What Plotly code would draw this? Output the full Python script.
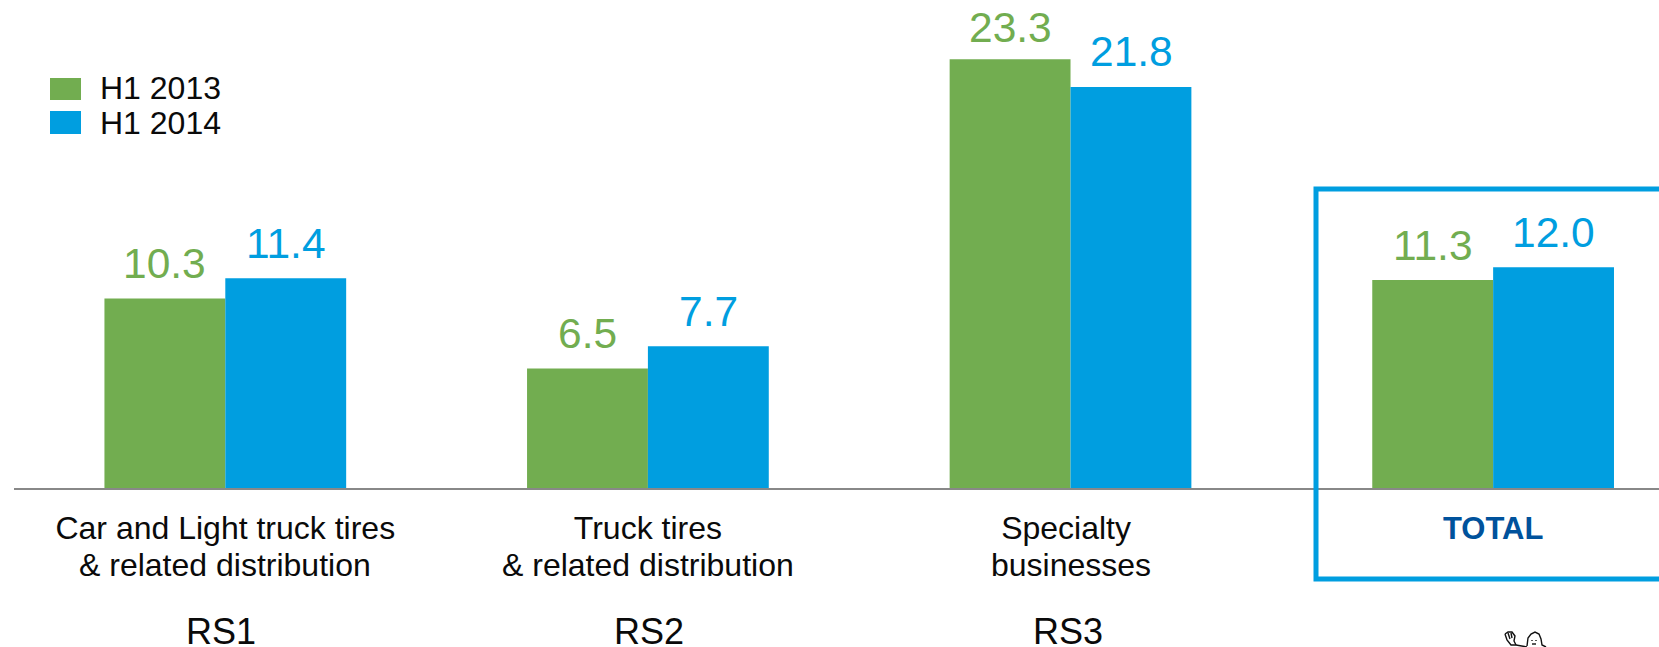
import plotly.graph_objects as go

line1 = ["Car and Light truck tires", "Truck tires", "Specialty\u00a0", "TOTAL"]
line2 = ["&amp; related distribution", "&amp; related distribution", "businesses", ""]
segments = ["RS1", "RS2", "RS3", ""]
segment_shift = [-4, 1, -3, 0]
h1_2013 = [10.3, 6.5, 23.3, 11.3]
h1_2014 = [11.4, 7.7, 21.8, 12.0]
GREEN = "#72AD50"
BLUE = "#009EE0"
NAVY = "#00529C"
FONT = "Liberation Sans, Arial, sans-serif"

FIG_W, FIG_H = 1659, 647
PLOT_L, PLOT_B = 14, 488
PLOT_W = FIG_W - PLOT_L
PLOT_H = PLOT_B
PX_PER_UNIT = 18.4
BAR_PX = 121
LABEL_GAP = 35
TALLEST_LABEL_GAP = 31.5   # the tallest bar's label sits closer to its bar, near the top edge


def xp(px):
    return (px - PLOT_L) / PLOT_W


def yp(py):
    return (PLOT_B - py) / PLOT_H


x = list(range(4))
ticks = [f"<b><span style='color:{NAVY};font-size:31px'>{t}</span></b>" if t == "TOTAL" else t for t in line1]
tallest = max(h1_2013 + h1_2014)

fig = go.Figure()
ann = []
for side, name, vals, col in [(-1, "H1 2013", h1_2013, GREEN), (1, "H1 2014", h1_2014, BLUE)]:
    fig.add_bar(x=x, y=vals, name=name, marker=dict(color=col, line_width=0), hoverinfo="skip")
    for i, v in zip(x, vals):
        ann.append(dict(x=i, y=v, xref="x", yref="y", text=f"{v:.1f}", showarrow=False,
                        xshift=side * BAR_PX / 2,
                        yshift=TALLEST_LABEL_GAP if v == tallest else LABEL_GAP,
                        xanchor="center", yanchor="middle",
                        font=dict(color=col, size=42.5, family=FONT)))

for i in x:
    if line2[i]:
        ann.append(dict(x=i, xref="x", y=yp(565), yref="paper", text=line2[i], showarrow=False,
                        font=dict(size=32, color="#0a0a0a", family=FONT), xanchor="center", yanchor="middle"))
    if segments[i]:
        ann.append(dict(x=i, xref="x", xshift=segment_shift[i], y=yp(631), yref="paper", text=segments[i],
                        showarrow=False, font=dict(size=36, color="#0a0a0a", family=FONT),
                        xanchor="center", yanchor="middle"))

shapes = [dict(type="rect", xref="paper", yref="paper", x0=xp(1316), x1=xp(1680), y0=yp(579), y1=yp(189),
               line=dict(color=BLUE, width=5), layer="above")]
for (name, col, y0, y1, ytxt) in [("H1 2013", GREEN, 78, 100, 88), ("H1 2014", BLUE, 111, 134, 123)]:
    shapes.append(dict(type="rect", xref="paper", yref="paper", x0=xp(50), x1=xp(81), y0=yp(y1), y1=yp(y0),
                       fillcolor=col, line_width=0))
    ann.append(dict(xref="paper", yref="paper", x=xp(98), y=yp(ytxt), text=name, showarrow=False,
                    font=dict(size=32, color="#0a0a0a", family=FONT), xanchor="left", yanchor="middle"))


def path(points):
    return "M" + " L".join(f"{xp(a):.5f},{yp(b):.5f}" for a, b in points)


# small mascot in the bottom edge of the slide
mascot_paths = [
    [(1505, 634), (1508, 632), (1512, 632), (1515, 636), (1514, 641), (1516, 645)],
    [(1505, 634), (1507, 640), (1511, 645), (1516, 645), (1527, 647)],
    [(1508, 633), (1510, 639)],
    [(1511, 633), (1512, 638)],
    [(1527, 646), (1528, 638), (1531, 634), (1535, 632), (1539, 634), (1541, 639), (1542, 645), (1546, 647)],
    [(1532, 640), (1532, 641)],
    [(1536, 640), (1536, 641)],
    [(1532, 644), (1536, 644)],
]
for pts in mascot_paths:
    shapes.append(dict(type="path", xref="paper", yref="paper", path=path(pts),
                       line=dict(color="#111111", width=1.4)))

fig.update_layout(
    width=FIG_W, height=FIG_H, autosize=False, barmode="group", bargap=0.428, bargroupgap=0,
    margin=dict(l=PLOT_L, r=0, t=0, b=FIG_H - PLOT_B),
    plot_bgcolor="white", paper_bgcolor="white",
    showlegend=False, annotations=ann, shapes=shapes,
    xaxis=dict(range=[-0.5, 3.3925], tickvals=x, ticktext=ticks, ticks="outside", ticklen=11,
               tickcolor="rgba(0,0,0,0)", showgrid=False, zeroline=False,
               showline=True, linecolor="#888888", linewidth=2,
               tickfont=dict(size=32, color="#0a0a0a", family=FONT)),
    yaxis=dict(range=[0, PLOT_H / PX_PER_UNIT], visible=False, showgrid=False, zeroline=False),
)
fig.write_html("out.html", config=dict(displayModeBar=False),
               post_script="document.body.style.margin='0';")
